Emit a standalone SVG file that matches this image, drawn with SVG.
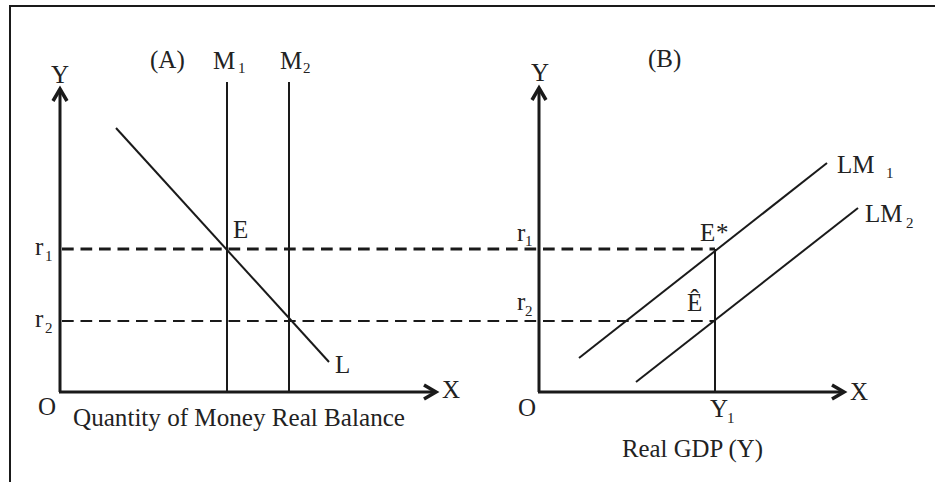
<svg xmlns="http://www.w3.org/2000/svg" width="935" height="482" viewBox="0 0 935 482">
<defs>
<style>
text{font-family:"Liberation Serif","Times New Roman",serif;font-size:25px;fill:#222;}
.sub{font-size:15px;}
.ax{stroke:#1a1a1a;stroke-width:3;fill:none;}
.ln{stroke:#1a1a1a;stroke-width:2;fill:none;}
.d1{stroke:#1a1a1a;stroke-width:3;stroke-dasharray:11.7 6.8;fill:none;}
.d2{stroke:#1a1a1a;stroke-width:2.2;stroke-dasharray:11.7 6.8;fill:none;}
</style>
<marker id="arr" markerUnits="userSpaceOnUse" viewBox="-16 -10 20 20" refX="0" refY="0" markerWidth="20" markerHeight="20" orient="auto" overflow="visible">
<path d="M-12,-7 L0,0 L-12,7" fill="none" stroke="#1a1a1a" stroke-width="3.5"/>
</marker>
</defs>
<rect width="935" height="482" fill="#fff"/>
<g id="frame">
<path d="M10,482 L10,6 L935,6" fill="none" stroke="#1a1a1a" stroke-width="2"/>
</g>
<g id="connectors">
<line class="d1" x1="62" y1="249" x2="715" y2="249"/>
<line class="d2" x1="62" y1="321" x2="715" y2="321"/>
<line class="ax" x1="60" y1="392" x2="60" y2="89" marker-end="url(#arr)"/>
<line class="ax" x1="59" y1="392" x2="436" y2="392" marker-end="url(#arr)"/>
<line class="ln" x1="227" y1="82" x2="227" y2="392"/>
<line class="ln" x1="289" y1="82" x2="289" y2="392"/>
<line class="ln" x1="116" y1="128" x2="329" y2="362"/>
<line class="ax" x1="539" y1="392" x2="539" y2="88" marker-end="url(#arr)"/>
<line class="ax" x1="538" y1="392" x2="844" y2="392" marker-end="url(#arr)"/>
<line class="ln" x1="715" y1="249" x2="715" y2="392" stroke-width="2.5"/>
<line class="ln" x1="579" y1="358" x2="827" y2="163"/>
<line class="ln" x1="636" y1="382" x2="858" y2="208"/>
</g>
<g id="panelA">
<text x="60" y="83" text-anchor="middle">Y</text>
<text x="150" y="68">(A)</text>
<text x="213" y="69">M</text><text class="sub" x="238" y="73">1</text>
<text x="280" y="69">M</text><text class="sub" x="303" y="73">2</text>
<text x="233" y="238">E</text>
<text x="35" y="255">r</text><text class="sub" x="45" y="261">1</text>
<text x="35" y="327">r</text><text class="sub" x="45" y="333">2</text>
<text x="335" y="373">L</text>
<text x="38" y="415">O</text>
<text x="442" y="398">X</text>
<text x="73" y="426" textLength="332" lengthAdjust="spacingAndGlyphs">Quantity of Money Real Balance</text>
</g>
<g id="panelB">
<text x="540" y="81" text-anchor="middle">Y</text>
<text x="648" y="67">(B)</text>
<text x="837" y="173">LM</text><text class="sub" x="886" y="178">1</text>
<text x="865" y="222">LM</text><text class="sub" x="906" y="228">2</text>
<text x="700" y="241">E</text><text x="716" y="241">*</text>
<text x="687" y="311">Ê</text>
<text x="517" y="241">r</text><text class="sub" x="525" y="246">1</text>
<text x="517" y="310">r</text><text class="sub" x="525" y="316">2</text>
<text x="518" y="416">O</text>
<text x="710" y="417">Y</text><text class="sub" x="727" y="423">1</text>
<text x="850" y="400">X</text>
<text x="622" y="457" textLength="141" lengthAdjust="spacingAndGlyphs">Real GDP (Y)</text>
</g>
</svg>
